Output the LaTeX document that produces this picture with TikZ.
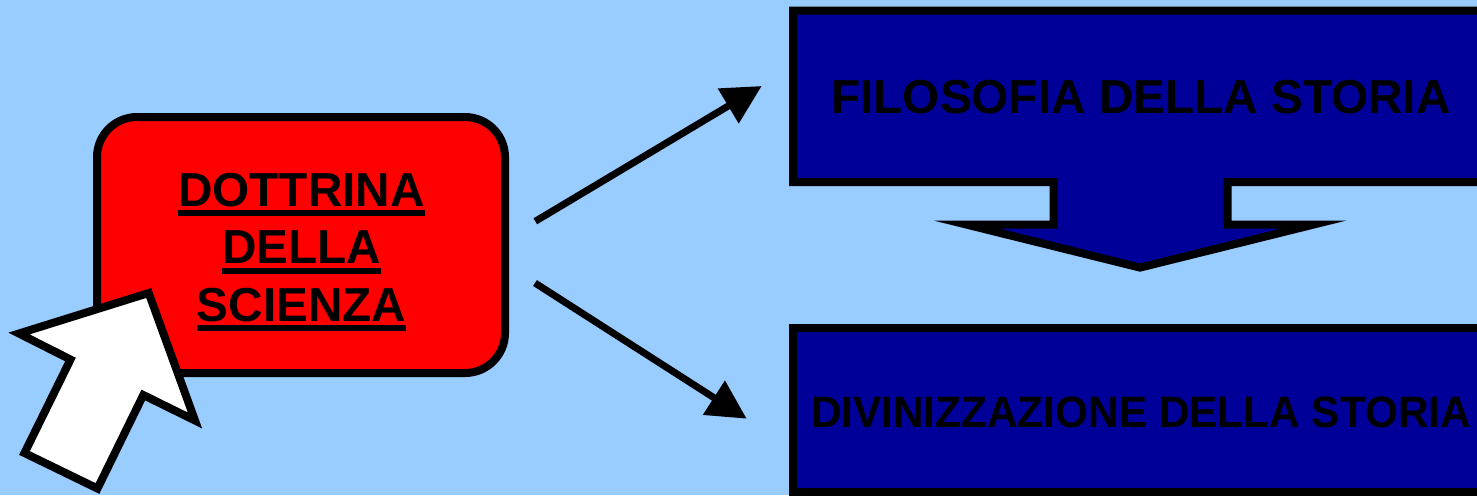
\documentclass[tikz,border=0pt]{standalone}
\usepackage{graphicx}
\usepackage{fontspec}
\setmainfont{Liberation Sans}
\usetikzlibrary{arrows.meta}
\definecolor{sfondo}{HTML}{99CCFF}
\definecolor{blu}{HTML}{000099}
\newcommand{\sottolinea}[1]{\setbox0\hbox{#1}\rlap{\rule[-5pt]{\wd0}{3pt}}\box0}
\tikzset{
		rosso/.style={draw,fill=red,line width=4pt,rounded corners=20pt,minimum width=204pt,minimum height=128pt},
		scatola/.style={draw,fill=blu,line width=4pt,minimum width=348.5pt,minimum height=82pt},
		scritta/.style={align=center,font=\fontsize{23.85}{28.75}\selectfont\bfseries},
		freccia/.style={-{Triangle[length=19.5pt,width=19.5pt]},line width=3.5pt}
	}
\begin{document}
\begin{tikzpicture}[x=0.5pt,y=-0.5pt]
	\useasboundingbox (0,0) rectangle (1477,495);
	\clip (0,0) rectangle (1477,495);
	\fill[sfondo] (0,0) rectangle (1477,495);

	\node[rosso]   (dottrina) at (301,245) {};
	\node[scritta] (titolo)   at (301.5,252) {\sottolinea{DOTTRINA}\\\sottolinea{DELLA}\\\sottolinea{SCIENZA}};
	\node[scatola] (divinizzazione) at (1141.5,410.2) {};
	\node[scritta] (storia)   at (1141,412.5) {\fontsize{22}{26}\selectfont\scalebox{0.962}[1]{DIVINIZZAZIONE DELLA STORIA}};

	% prima scatola con la sua freccia verso il basso
	\draw[fill=blu,line width=4pt,miter limit=10] (793,182) -- (793,10.6) -- (1490,10.6) -- (1490,182) -- (1227.5,182) -- (1227.5,224.7)
		-- (1313,224.7) -- (1140,267.6) -- (967,224.7) -- (1053.5,224.7) -- (1053.5,182) -- cycle;
	\node[scritta] (filosofia) at (1141,97) {FILOSOFIA DELLA STORIA};

	\coordinate (su)   at (761.7,86);
	\coordinate (giu)  at (746.7,418.7);
	\coordinate (da su)  at (535.3,221.3);
	\coordinate (da giu) at (535,283);
	\draw[freccia] (da su) -- (su);
	\draw[freccia] (da giu) -- (giu);

	% puntatore
	\draw[fill=white,line width=4pt] (19,333.5) -- (148.7,293) -- (195,420.5) -- (143.3,395) -- (97.5,488.5) -- (24.5,453) -- (70.5,359.5) -- cycle;
\end{tikzpicture}
\end{document}
